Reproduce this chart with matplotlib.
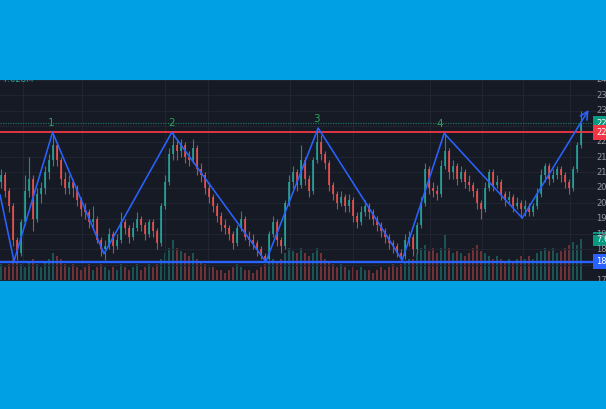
import matplotlib
matplotlib.use("Agg")
import matplotlib.pyplot as plt
from matplotlib.patches import Rectangle
import numpy as np

# ---------------- data ----------------
opens = [207, 209, 204, 199, 188, 184, 194, 204, 208, 195, 203, 205, 210, 214, 219, 214, 208, 205, 207, 205,
         201, 198, 197, 194, 195, 188, 185, 186, 190, 186, 188, 194, 192, 189, 192, 195, 193, 190, 194, 191,
         187, 199, 207, 216, 219, 217, 219, 215, 214, 218, 211, 209, 205, 202, 199, 196, 193, 192, 190, 187,
         192, 195, 189, 188, 187, 185, 183, 182, 190, 194, 188, 186, 200, 207, 210, 206, 214, 208, 204, 214,
         220, 216, 213, 206, 203, 200, 202, 199, 201, 196, 194, 197, 199, 197, 195, 193, 191, 189, 187, 186,
         184, 183, 188, 189, 185, 193, 200, 211, 205, 204, 203, 212, 217, 210, 212, 208, 210, 207, 206, 204,
         200, 198, 205, 210, 206, 207, 203, 201, 202, 199, 200, 198, 199, 197, 199, 203, 209, 212, 208, 209,
         211, 209, 207, 205, 211, 219]
closes = [209, 204, 199, 188, 184, 194, 204, 208, 195, 203, 205, 210, 214, 219, 214, 208, 205, 207, 205, 201,
          198, 197, 194, 195, 188, 185, 186, 190, 186, 188, 194, 192, 189, 192, 195, 193, 190, 194, 191, 187,
          199, 207, 216, 219, 217, 219, 215, 214, 218, 211, 209, 205, 202, 199, 196, 193, 192, 190, 187, 192,
          195, 189, 188, 187, 185, 183, 182, 190, 194, 188, 186, 200, 207, 210, 206, 214, 208, 204, 214, 220,
          216, 213, 206, 203, 200, 202, 199, 201, 196, 194, 197, 199, 197, 195, 193, 191, 189, 187, 186, 184,
          183, 188, 189, 185, 193, 200, 211, 205, 204, 203, 212, 217, 210, 212, 208, 210, 207, 206, 204, 200,
          198, 205, 210, 206, 207, 203, 201, 202, 199, 200, 198, 199, 197, 199, 203, 209, 212, 208, 209, 211,
          209, 207, 205, 211, 219, 225.9]
highs = [211, 210, 205, 200, 189, 195, 209, 215, 209, 205, 207, 212, 216, 222.5, 220, 215, 210, 209, 208, 206,
         202, 200, 198, 199, 196, 189, 188, 192, 191, 190, 197, 195, 193, 194, 197, 196, 194, 195, 195, 192,
         200, 209, 218, 223.5, 221, 221, 220, 217, 221, 219, 213, 210, 207, 203, 200, 197, 195, 193, 191, 193,
         197.5, 196, 191, 190, 188, 186, 184, 191, 196, 195, 189, 201, 209, 212, 211, 219, 215, 209, 215, 224.5,
         222, 217, 214, 207, 204, 204, 203, 203, 202, 197, 199, 201, 200, 198, 196, 194, 192, 190, 188, 187,
         185, 190, 191, 190, 194, 202, 213, 212, 207, 206, 214, 222.7, 218, 214, 213, 212, 211, 209, 207, 205,
         201, 207, 211, 211, 209, 208, 204, 204, 203, 202, 201, 201, 200, 200, 205, 211, 213, 213, 211, 212,
         212, 210, 208, 212, 220, 230]
lows = [205, 202, 197, 186, 181.5, 183, 193, 202, 191, 194, 200, 203, 208, 212, 212, 206, 203, 203, 202, 199,
        196, 195, 192, 192, 187, 183, 181.5, 185, 184, 185, 187, 190, 187, 188, 191, 191, 188, 189, 189, 185,
        186, 198, 206, 214, 214, 215, 213, 212, 213, 209, 207, 203, 200, 197, 194, 191, 190, 188, 185, 186,
        191, 188, 186, 185, 183, 182, 181, 181.5, 189, 186, 184, 185, 199, 205, 204, 205, 206, 202, 203, 213,
        214, 211, 204, 201, 198, 199, 197, 197, 194, 192, 193, 196, 195, 193, 191, 189, 187, 185, 184, 182.5,
        181.5, 182, 186, 183, 184, 192, 199, 203, 202, 201, 202, 211, 208, 208, 206, 207, 205, 204, 202, 198,
        195, 197, 204, 204, 205, 201, 199, 200, 197, 198, 195.5, 196, 196, 196, 198, 202, 207, 206, 207, 208,
        207, 205, 203, 204, 210, 218]
volumes = [3, 2.5, 3, 4, 3.5, 3, 2.5, 3.5, 4, 3, 2.5,
           3.5, 4, 5, 4.5, 4, 3,
           2.5, 3, 2.5, 2, 2.5, 3, 2, 2.5, 3,
           2.5, 2, 2.5, 2, 3, 2.5, 2, 2.5, 3, 2, 2.5, 3, 2.5, 3,
           4, 5, 6, 7.5, 6, 5.5, 5, 4.5, 5, 4, 3.5,
           3, 2.5, 2.5, 2, 2, 1.5, 2, 2.5, 3, 2.5, 2, 2, 1.5, 2, 2.5, 3,
           3.5, 4, 3.5, 4, 5, 6, 5.5, 5, 6, 5, 4.5, 5, 6, 5,
           4, 3.5, 3, 2.5, 3, 2.5, 2, 2.5, 2, 2.5, 2, 2, 1.5, 2, 2.5, 2, 2.5, 3, 2.5, 3,
           3.5, 4, 4, 5, 6, 6.5, 5.5, 6, 5, 6, 8.5,
           6, 5, 5.5, 5, 4.5, 5, 6, 6.5, 5.5, 5, 4.5, 4, 4.5, 4, 3.5, 4, 3.5, 4, 4.5,
           4, 4.5, 4, 5, 5.5, 6, 5.5, 6, 5, 5.5, 6, 6.5, 7, 6.5, 7.6]

zz_x = [-0.25, 3.25, 12.9, 25.75, 42.7, 66.2, 79.3, 100.3, 110.8, 130.3, 146.9]
zz_y = [202.8, 181.2, 223.0, 183.6, 223.0, 181.0, 224.4, 181.5, 222.7, 195.2, 230.3]
peak_idx = [2, 4, 6, 8]
peak_labels = ["1", "2", "3", "4"]
peak_dx = [-1, 0, -1, -3]   # label offsets in points

resistance = 223.0
support = 181.0
last_price = 225.9
last_volume_label = "7.628M"
price_ticks = list(range(175, 241, 5))
vgrid_x = [5.5, 20.25, 41, 51.75, 72.25, 88, 107.25, 120.25, 130.5, 142.25]

# ---------------- style ----------------
BG_BLUE = "#00a1e4"
PANEL = "#161a25"
GRID = "#212532"
UP = "#26a69a"
DOWN = "#ef5350"
BLUE = "#2962ff"
RED = "#f23645"

W, H = 606, 409
fig = plt.figure(figsize=(W / 100, H / 100), dpi=100, facecolor=BG_BLUE)
band_bottom = (H - 281) / H
band_h = 201 / H
fig.patches.append(Rectangle((0, band_bottom), 1, band_h, transform=fig.transFigure,
                             facecolor=PANEL, edgecolor="none", zorder=0))

ax = fig.add_axes([0, band_bottom, 1, band_h])
vax = ax.twinx()
ax.set_zorder(2)
vax.set_zorder(1)
ax.set_axis_off()
vax.set_axis_off()

x = np.arange(len(closes))
xmin = -0.25
xmax = xmin + W / 4.0
ax.set_xlim(xmin, xmax)
vax.set_xlim(xmin, xmax)
ax.set_ylim(174.75, 240)
vax.set_ylim(0, 36.4)

# grid
for t in price_ticks:
    ax.axhline(t, color=GRID, lw=0.8, zorder=0)
for gx in vgrid_x:
    ax.axvline(gx, color=GRID, lw=0.8, zorder=0)

o = np.array(opens, dtype=float)
c = np.array(closes, dtype=float)
hi = np.array(highs, dtype=float)
lo = np.array(lows, dtype=float)
up = c >= o
cols = np.where(up, UP, DOWN)

# volume
vax.bar(x, volumes, width=0.55, color=cols, alpha=0.42, linewidth=0)

# candles
ax.vlines(x, lo, hi, colors=cols, linewidth=0.8, alpha=0.8, zorder=3)
ax.bar(x, np.abs(c - o), bottom=np.minimum(o, c), width=0.55, color=cols,
       alpha=0.8, linewidth=0, zorder=3)

# horizontal levels
ax.axhline(last_price, color="#1e6e5e", lw=0.9, ls=(0, (1, 1)), zorder=4)
ax.axhline(resistance, color=RED, lw=1.3, zorder=5)
ax.axhline(support, color=BLUE, lw=1.7, zorder=5)

# zigzag
ax.plot(zz_x[:-1], zz_y[:-1], color=BLUE, lw=1.15, zorder=6, solid_capstyle="round")
ax.annotate("", xy=(zz_x[-1], zz_y[-1]), xytext=(zz_x[-2], zz_y[-2]),
            arrowprops=dict(arrowstyle="->", color=BLUE, lw=1.15, mutation_scale=14,
                            shrinkA=0, shrinkB=0), zorder=6)

for pi, lab, dx in zip(peak_idx, peak_labels, peak_dx):
    ax.annotate(lab, xy=(zz_x[pi], zz_y[pi]), xytext=(dx, 3), textcoords="offset points",
                ha="center", va="bottom", fontsize=7.5, color="#2e9e55", zorder=7,
                annotation_clip=False)

# price scale labels
lx = 596 / 4.0 + xmin
for t in price_ticks:
    ax.text(lx, t, str(t), fontsize=6, color="#9598a1", va="center", ha="left",
            clip_on=True, zorder=8)

box_items = [(last_price, f"{last_price:.2f}", "#089981"),
             (resistance, f"{resistance:.2f}", RED),
             (support, f"{support:.2f}", BLUE)]
for yv, txt, fc in box_items:
    ax.text(lx, yv, txt, fontsize=6, color="white", va="center", ha="left", clip_on=True,
            zorder=9, bbox=dict(boxstyle="square,pad=0.35", fc=fc, ec="none"))

vax.text(lx, 7.6, "7.628M", fontsize=6, color="white", va="center", ha="left", clip_on=True,
         zorder=9, bbox=dict(boxstyle="square,pad=0.35", fc="#089981", ec="none"))

# top-left volume legend (cut by the crop)
ax.text(0.003, 1.0, last_volume_label, transform=ax.transAxes, fontsize=6, color=UP,
        va="center", ha="left", clip_on=True, zorder=9)

fig.savefig("out.png", dpi=100, facecolor=BG_BLUE)
